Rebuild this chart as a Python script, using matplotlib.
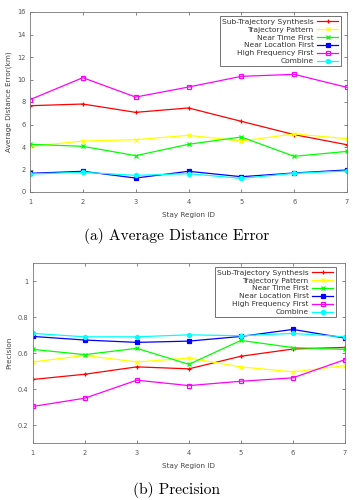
import matplotlib
matplotlib.use("Agg")
import matplotlib.pyplot as plt

regions = [1, 2, 3, 4, 5, 6, 7]
series_names = ["Sub-Trajectory Synthesis", "Trajectory Pattern", "Near Time First",
                "Near Location First", "High Frequency First", "Combine"]

err_sub = [7.67, 7.82, 7.08, 7.47, 6.28, 5.10, 4.20]
err_pat = [4.06, 4.53, 4.65, 5.04, 4.53, 5.16, 4.74]
err_time = [4.24, 4.06, 3.23, 4.24, 4.89, 3.17, 3.61]
err_loc = [1.66, 1.84, 1.24, 1.84, 1.36, 1.69, 1.96]
err_freq = [8.21, 10.16, 8.44, 9.33, 10.28, 10.46, 9.30]
err_comb = [1.60, 1.75, 1.48, 1.63, 1.21, 1.66, 1.87]

prec_sub = [0.453, 0.482, 0.523, 0.512, 0.582, 0.622, 0.631]
prec_pat = [0.550, 0.587, 0.550, 0.572, 0.523, 0.495, 0.530]
prec_time = [0.620, 0.591, 0.626, 0.537, 0.670, 0.630, 0.620]
prec_loc = [0.692, 0.672, 0.659, 0.666, 0.692, 0.731, 0.683]
prec_freq = [0.303, 0.349, 0.449, 0.419, 0.443, 0.462, 0.563]
prec_comb = [0.709, 0.690, 0.690, 0.701, 0.696, 0.709, 0.690]

colors = ["#ff0000", "#ffff00", "#00ff00", "#0000ff", "#ff00ff", "#00ffff"]
markers = ["+", "x", "x", "s", "s", "o"]
filled = [True, True, True, True, False, True]

fig = plt.figure(figsize=(3.53, 5.0), dpi=100)
ax1 = fig.add_axes([0.085, 0.616, 0.898, 0.360])
ax2 = fig.add_axes([0.093, 0.114, 0.884, 0.360])

def draw(ax, data, ylim, yticks, ylabel, legbox):
    for vals, name, c, m, f in zip(data, series_names, colors, markers, filled):
        ax.plot(regions, vals, color=c, lw=0.9, marker=m, markersize=3,
                markeredgewidth=0.9, markerfacecolor=(c if f else "none"),
                markeredgecolor=c, label=name)
    ax.set_xlim(1, 7)
    ax.set_ylim(*ylim)
    ax.set_xticks(regions)
    ax.set_yticks(yticks)
    ax.tick_params(direction="in", length=2.5, width=0.5, labelsize=4.8,
                   colors="#555555", top=True, right=True, pad=3)
    ax.tick_params(axis="x", pad=5)
    for s in ax.spines.values():
        s.set_color("#777777")
        s.set_linewidth(0.6)
    ax.set_xlabel("Stay Region ID", fontsize=5.2, color="#444444", labelpad=5)
    ax.set_ylabel(ylabel, fontsize=5.2, color="#444444", labelpad=4)
    leg = ax.legend(loc="upper right", bbox_to_anchor=legbox, fontsize=5.4,
                    markerfirst=False, frameon=True, fancybox=False,
                    borderpad=0.3, labelspacing=0.22, handlelength=2.8,
                    handletextpad=0.5, borderaxespad=0.2)
    leg.get_frame().set_edgecolor("#333333")
    leg.get_frame().set_linewidth(0.6)
    for t in leg.get_texts():
        t.set_color("#333333")

draw(ax1, [err_sub, err_pat, err_time, err_loc, err_freq, err_comb],
     (0, 16), [0, 2, 4, 6, 8, 10, 12, 14, 16], "Average Distance Error(km)", (0.985, 0.985))
ax1.set_yticklabels(["0", "2", "4", "6", "8", "10", "12", "14", "16"])
draw(ax2, [prec_sub, prec_pat, prec_time, prec_loc, prec_freq, prec_comb],
     (0.1, 1.1), [0.2, 0.4, 0.6, 0.8, 1.0], "Precision", (0.975, 0.985))
ax2.set_yticklabels(["0.2", "0.4", "0.6", "0.8", "1"])

fig.text(0.5, 1 - 236 / 500, "(a) Average Distance Error", ha="center", va="center",
         fontsize=11.2, family=["cmr10", "DejaVu Serif"])
fig.text(0.5, 1 - 490 / 500, "(b) Precision", ha="center", va="center",
         fontsize=11.2, family=["cmr10", "DejaVu Serif"])

fig.savefig("out.png", dpi=100)
